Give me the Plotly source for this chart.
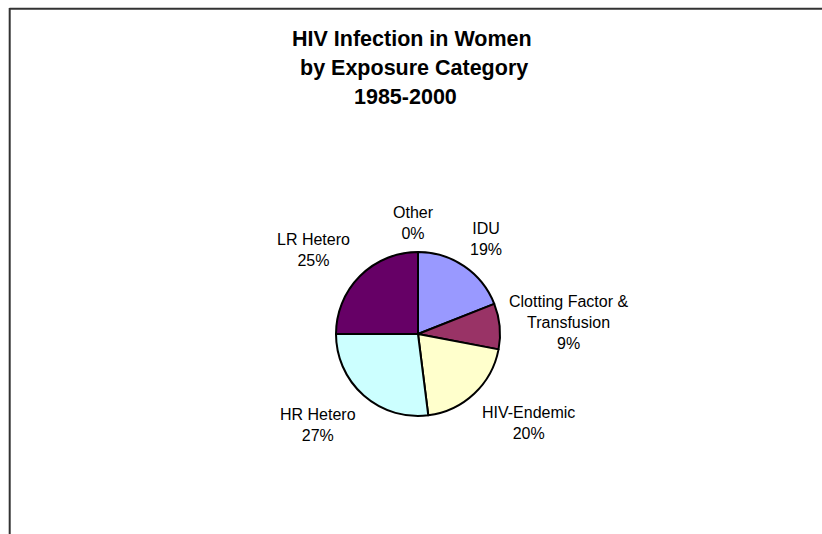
import plotly.graph_objects as go

# ---- data ----
categories = ["IDU", "Clotting Factor &<br>Transfusion", "HIV-Endemic", "HR Hetero", "LR Hetero", "Other"]
values = [19, 9, 20, 27, 25, 0]
colors = ["#9999FF", "#993366", "#FFFFCC", "#CCFFFF", "#660066", "#FF8080"]
title_lines = ["HIV Infection in Women", "by Exposure Category", "1985-2000"]

W, H = 822, 534

def px(x):
    return x / W

def py(y):
    return 1 - y / H

# label block centres in pixels (layout only)
label_pos = {
    "IDU": (486, 239),
    "Clotting Factor &<br>Transfusion": (568, 322),
    "HIV-Endemic": (528, 423),
    "HR Hetero": (318, 425),
    "LR Hetero": (313, 250),
    "Other": (413, 223),
}
title_pos = [(412, 39), (414, 68), (405, 97)]

cx, cy, r = 418, 334, 82

fig = go.Figure(go.Pie(
    labels=categories,
    values=values,
    sort=False,
    direction="clockwise",
    rotation=0,
    textinfo="none",
    hoverinfo="label+percent",
    showlegend=False,
    marker=dict(colors=colors, line=dict(color="black", width=2)),
    domain=dict(x=[px(cx - r), px(cx + r)], y=[py(cy + r), py(cy - r)]),
))

total = sum(values)
annotations = []
for cat, v in zip(categories, values):
    x, y = label_pos[cat]
    pct = round(100 * v / total)
    annotations.append(dict(
        x=px(x), y=py(y), xref="paper", yref="paper",
        xanchor="center", yanchor="middle", showarrow=False, align="center",
        text=f"{cat}<br>{pct}%",
        font=dict(family="Liberation Sans, Arial", size=16, color="black"),
    ))
for t, (x, y) in zip(title_lines, title_pos):
    annotations.append(dict(
        x=px(x), y=py(y), xref="paper", yref="paper",
        xanchor="center", yanchor="middle", showarrow=False,
        text=f"<b>{t}</b>",
        font=dict(family="Liberation Sans, Arial", size=21.5, color="black"),
    ))

shapes = [
    dict(type="line", xref="paper", yref="paper", x0=px(9.5), x1=1.01, y0=py(8.7), y1=py(8.7),
         line=dict(color="#333333", width=2)),
    dict(type="line", xref="paper", yref="paper", x0=px(9.7), x1=px(9.7), y0=-0.01, y1=py(8.0),
         line=dict(color="#333333", width=2)),
]

fig.update_layout(
    width=W, height=H,
    margin=dict(l=0, r=0, t=0, b=0),
    paper_bgcolor="white", plot_bgcolor="white",
    annotations=annotations,
    shapes=shapes,
)

fig.write_html("out.html")
